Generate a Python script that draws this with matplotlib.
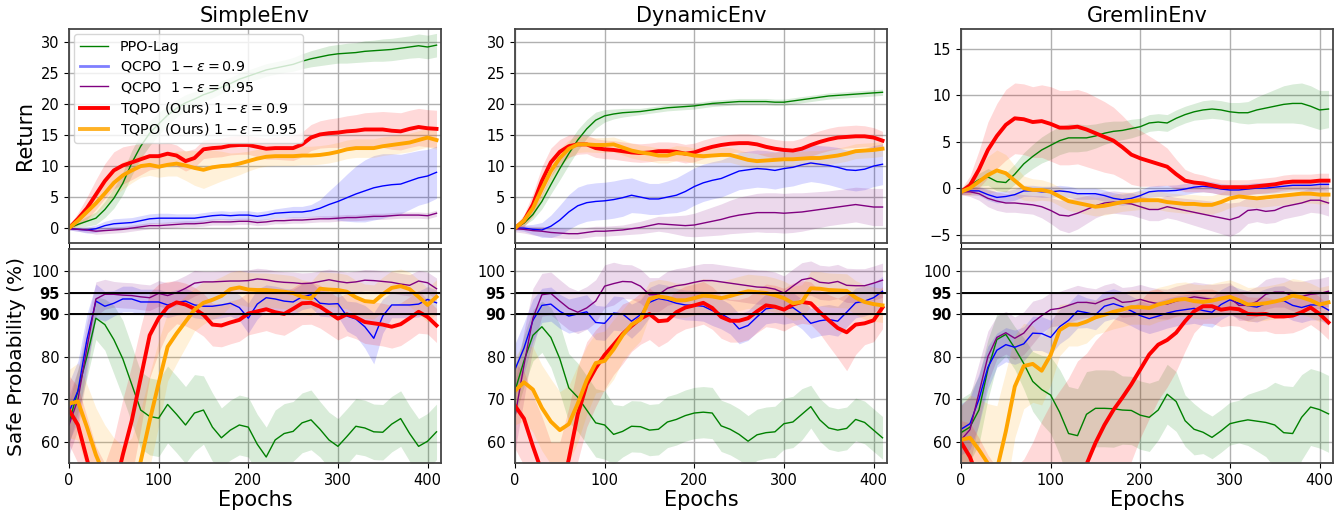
import matplotlib
matplotlib.use("Agg")
import matplotlib.pyplot as plt
from matplotlib.lines import Line2D
import numpy as np

epochs = list(range(0, 420, 10))

envs = ["SimpleEnv", "DynamicEnv", "GremlinEnv"]

# ---- Return (top row) ----
simple_ret_ppo = [0, 0.6, 1.1, 1.6, 3.0, 4.8, 7.2, 10.5, 13.2, 15.3, 16.8, 18.2, 19.3, 20.2, 20.8, 21.5, 22.0, 22.7, 23.3, 24.0, 24.5, 25.0, 25.5, 25.8, 26.1, 26.4, 26.9, 27.3, 27.6, 27.9, 28.1, 28.2, 28.3, 28.5, 28.6, 28.7, 28.8, 29.0, 29.2, 29.4, 29.2, 29.5]
simple_ret_q90 = [-0.1, -0.2, -0.3, -0.1, 0.4, 0.7, 0.8, 0.9, 1.2, 1.5, 1.6, 1.6, 1.6, 1.6, 1.6, 1.8, 2.0, 2.1, 2.0, 2.1, 2.1, 1.9, 2.1, 2.4, 2.5, 2.6, 2.6, 2.8, 3.2, 3.8, 4.3, 4.9, 5.5, 6.0, 6.5, 6.8, 7.0, 7.1, 7.6, 8.1, 8.4, 9.0]
simple_ret_q95 = [-0.1, -0.2, -0.3, -0.5, -0.4, -0.3, -0.2, 0.0, 0.2, 0.4, 0.4, 0.5, 0.6, 0.7, 0.7, 0.8, 1.0, 1.0, 1.0, 1.1, 1.1, 0.9, 1.0, 1.2, 1.2, 1.3, 1.3, 1.4, 1.5, 1.5, 1.6, 1.7, 1.7, 1.8, 1.9, 1.9, 2.0, 2.1, 2.1, 2.1, 2.0, 2.4]
simple_ret_t90 = [0, 1.5, 3.2, 5.4, 7.6, 9.3, 10.1, 10.6, 11.1, 11.6, 11.6, 12.0, 11.7, 10.8, 11.3, 12.7, 12.9, 13.0, 13.3, 13.4, 13.4, 13.1, 12.8, 12.9, 12.9, 12.9, 13.5, 14.6, 15.1, 15.3, 15.4, 15.6, 15.7, 15.9, 15.9, 15.9, 15.7, 15.6, 16.0, 16.3, 16.1, 16.0]
simple_ret_t95 = [0, 1.2, 2.6, 4.0, 5.6, 7.3, 8.5, 9.3, 10.0, 10.2, 9.9, 10.2, 10.4, 10.1, 9.7, 9.4, 9.8, 10.0, 10.1, 10.4, 10.8, 11.2, 11.5, 11.6, 11.6, 11.6, 11.7, 11.7, 11.8, 12.0, 12.3, 12.7, 12.9, 12.9, 12.9, 13.2, 13.4, 13.6, 13.8, 14.2, 14.6, 14.2]
simple_ret_ppo_sd = [0.2, 0.5, 0.8, 1.0, 1.3, 1.6, 1.8, 2.0, 2.0, 2.0, 1.8, 1.6, 1.4, 1.3, 1.2, 1.1, 1.0, 1.0, 1.0, 1.0, 1.0, 1.0, 1.0, 1.0, 1.0, 1.1, 1.2, 1.3, 1.4, 1.5, 1.5, 1.6, 1.6, 1.7, 1.7, 1.8, 1.8, 1.8, 1.8, 1.9, 1.9, 1.9]
simple_ret_q90_sd = [0.2, 0.3, 0.5, 0.6, 0.7, 0.8, 0.8, 0.8, 0.8, 0.8, 0.8, 0.8, 0.7, 0.7, 0.7, 0.7, 0.7, 0.7, 0.7, 0.7, 0.7, 0.7, 0.7, 0.7, 0.8, 0.9, 0.9, 1.0, 1.4, 2.2, 3.0, 3.8, 4.5, 5.0, 5.2, 5.2, 5.0, 4.8, 4.6, 4.4, 4.3, 4.2]
simple_ret_q95_sd = [0.2, 0.3, 0.4, 0.5, 0.5, 0.5, 0.5, 0.5, 0.5, 0.5, 0.5, 0.5, 0.5, 0.5, 0.5, 0.5, 0.5, 0.5, 0.5, 0.5, 0.5, 0.5, 0.5, 0.5, 0.5, 0.5, 0.5, 0.5, 0.5, 0.5, 0.5, 0.5, 0.5, 0.5, 0.5, 0.5, 0.5, 0.5, 0.5, 0.5, 0.5, 0.5]
simple_ret_t90_sd = [0.3, 1.0, 1.8, 2.4, 2.8, 3.0, 3.0, 2.8, 2.5, 2.2, 2.0, 1.8, 1.7, 1.6, 1.5, 1.5, 1.5, 1.5, 1.5, 1.5, 1.5, 1.6, 1.7, 1.8, 1.9, 2.0, 2.0, 2.1, 2.2, 2.3, 2.4, 2.5, 2.6, 2.7, 2.8, 2.9, 3.0, 3.0, 3.0, 3.0, 3.0, 3.0]
simple_ret_t95_sd = [0.3, 0.8, 1.4, 1.8, 2.0, 2.2, 2.2, 2.0, 1.8, 1.7, 1.7, 1.8, 2.0, 2.4, 2.8, 3.0, 2.8, 2.4, 2.0, 1.8, 1.6, 1.5, 1.5, 1.5, 1.5, 1.5, 1.5, 1.5, 1.5, 1.5, 1.5, 1.5, 1.5, 1.5, 1.5, 1.5, 1.5, 1.5, 1.5, 1.5, 1.5, 1.5]

dyn_ret_ppo = [0, 0.8, 2.2, 4.3, 7.0, 9.6, 12.0, 14.2, 16.0, 17.4, 18.1, 18.4, 18.6, 18.7, 18.8, 19.0, 19.2, 19.4, 19.5, 19.6, 19.7, 19.9, 20.1, 20.2, 20.3, 20.4, 20.4, 20.4, 20.4, 20.3, 20.3, 20.5, 20.7, 20.9, 21.1, 21.3, 21.4, 21.5, 21.6, 21.7, 21.8, 21.9]
dyn_ret_q90 = [0, 0, -0.2, -0.3, 0.3, 1.3, 2.6, 3.6, 4.1, 4.3, 4.4, 4.6, 4.9, 5.3, 5.0, 4.7, 4.7, 5.0, 5.3, 5.9, 6.7, 7.3, 7.7, 8.0, 8.6, 9.2, 9.4, 9.6, 9.5, 9.3, 9.6, 9.8, 10.2, 10.5, 10.3, 10.1, 9.8, 9.4, 9.3, 9.5, 10.0, 10.3]
dyn_ret_q95 = [-0.1, -0.2, -0.4, -0.5, -0.7, -0.8, -0.9, -0.9, -0.7, -0.5, -0.5, -0.4, -0.3, -0.1, 0.1, 0.4, 0.7, 0.6, 0.5, 0.4, 0.5, 0.8, 1.1, 1.4, 1.8, 2.1, 2.3, 2.5, 2.5, 2.5, 2.4, 2.5, 2.6, 2.8, 3.0, 3.2, 3.4, 3.6, 3.8, 3.6, 3.4, 3.4]
dyn_ret_t90 = [0, 1.2, 3.8, 7.6, 10.6, 12.3, 13.2, 13.5, 13.5, 12.9, 12.7, 12.6, 12.4, 12.2, 12.1, 12.2, 12.4, 12.4, 12.3, 12.0, 12.2, 12.7, 13.1, 13.4, 13.6, 13.7, 13.7, 13.5, 13.1, 12.8, 12.6, 12.5, 12.8, 13.4, 13.9, 14.3, 14.6, 14.7, 14.8, 14.8, 14.6, 14.1]
dyn_ret_t95 = [0, 1.2, 3.2, 6.3, 9.2, 11.3, 12.8, 13.5, 13.5, 13.4, 13.4, 13.5, 13.0, 12.5, 12.2, 12.0, 11.7, 11.7, 12.1, 12.0, 11.7, 11.6, 11.7, 11.8, 11.8, 11.4, 11.0, 10.8, 10.9, 11.0, 11.1, 11.1, 11.2, 11.3, 11.3, 11.5, 11.7, 12.0, 12.4, 12.5, 12.6, 12.8]
dyn_ret_ppo_sd = [0.2, 0.4, 0.8, 1.2, 1.5, 1.8, 1.8, 1.7, 1.5, 1.3, 1.0, 0.8, 0.7, 0.6, 0.5, 0.5, 0.5, 0.5, 0.5, 0.5, 0.5, 0.5, 0.5, 0.5, 0.5, 0.5, 0.5, 0.5, 0.5, 0.5, 0.5, 0.5, 0.5, 0.5, 0.5, 0.5, 0.5, 0.5, 0.5, 0.5, 0.5, 0.5]
dyn_ret_q90_sd = [0.3, 0.5, 0.8, 1.2, 1.8, 2.4, 2.8, 3.0, 3.0, 3.0, 3.0, 3.0, 3.0, 2.8, 2.6, 2.5, 2.5, 2.6, 2.8, 3.0, 3.0, 3.0, 3.0, 3.0, 3.0, 3.0, 3.0, 3.0, 3.0, 3.0, 3.0, 3.0, 3.0, 3.0, 3.0, 3.1, 3.2, 3.2, 3.3, 3.3, 3.3, 3.3]
dyn_ret_q95_sd = [0.5, 0.6, 0.7, 0.8, 0.8, 0.8, 0.8, 0.8, 0.8, 0.8, 0.8, 0.8, 0.8, 0.9, 1.0, 1.1, 1.2, 1.3, 1.5, 1.7, 1.9, 2.1, 2.3, 2.5, 2.7, 2.9, 3.0, 3.1, 3.2, 3.2, 3.2, 3.2, 3.1, 3.0, 2.9, 2.8, 2.8, 2.8, 2.8, 2.9, 3.0, 3.0]
dyn_ret_t90_sd = [0.3, 1.0, 1.8, 2.3, 2.3, 2.0, 1.8, 1.6, 1.5, 1.5, 1.5, 1.5, 1.5, 1.5, 1.5, 1.5, 1.5, 1.5, 1.5, 1.5, 1.5, 1.5, 1.5, 1.5, 1.5, 1.5, 1.5, 1.5, 1.5, 1.5, 1.5, 1.6, 1.7, 1.8, 1.8, 1.8, 1.8, 1.8, 1.8, 1.7, 1.6, 1.5]
dyn_ret_t95_sd = [0.3, 0.8, 1.3, 1.6, 1.6, 1.5, 1.4, 1.3, 1.2, 1.2, 1.2, 1.2, 1.2, 1.2, 1.2, 1.2, 1.2, 1.2, 1.2, 1.2, 1.2, 1.2, 1.2, 1.2, 1.2, 1.2, 1.2, 1.2, 1.2, 1.2, 1.2, 1.2, 1.2, 1.2, 1.2, 1.2, 1.2, 1.2, 1.2, 1.2, 1.2, 1.2]

grem_ret_ppo = [-0.4, 0.3, 0.9, 1.2, 0.7, 0.6, 1.5, 2.6, 3.4, 4.1, 4.6, 5.1, 5.4, 5.4, 5.4, 5.6, 5.9, 6.1, 6.2, 6.4, 6.6, 7.0, 7.1, 7.0, 7.5, 7.9, 8.2, 8.4, 8.5, 8.4, 8.2, 8.1, 8.1, 8.4, 8.6, 8.8, 9.0, 9.1, 9.1, 8.8, 8.4, 8.5]
grem_ret_q90 = [-0.4, -0.3, -0.3, -0.7, -1.0, -0.9, -0.7, -0.3, -0.3, -0.4, -0.4, -0.3, -0.4, -0.6, -0.6, -0.6, -0.8, -1.1, -1.25, -1.1, -0.8, -0.4, -0.3, -0.3, -0.25, -0.1, 0.1, 0.2, 0.1, -0.1, -0.2, -0.2, -0.1, 0.0, 0.0, 0.1, 0.2, 0.3, 0.3, 0.3, 0.4, 0.4]
grem_ret_q95 = [-0.4, -0.4, -0.6, -1.1, -1.4, -1.6, -1.6, -1.7, -1.8, -2.0, -2.4, -2.9, -3.0, -2.7, -2.3, -1.9, -1.6, -1.5, -1.6, -1.7, -2.0, -2.3, -2.3, -2.0, -2.2, -2.4, -2.6, -2.8, -3.0, -3.2, -3.4, -3.1, -2.4, -2.3, -2.5, -2.4, -2.0, -1.8, -1.6, -1.3, -1.3, -1.6]
grem_ret_t90 = [-0.4, 0.3, 2.0, 4.1, 5.6, 6.8, 7.5, 7.4, 7.1, 7.2, 6.9, 6.5, 6.5, 6.6, 6.3, 5.9, 5.5, 5.1, 4.4, 3.6, 3.2, 2.9, 2.6, 2.3, 1.5, 0.8, 0.6, 0.5, 0.3, 0.1, 0.1, 0.1, 0.1, 0.2, 0.3, 0.4, 0.6, 0.7, 0.7, 0.7, 0.8, 0.8]
grem_ret_t95 = [-0.4, 0.0, 0.7, 1.4, 1.9, 1.6, 0.8, 0.0, -0.2, -0.2, -0.4, -0.9, -1.4, -1.6, -1.8, -2.0, -1.9, -1.7, -1.5, -1.4, -1.3, -1.3, -1.3, -1.5, -1.6, -1.7, -1.7, -1.8, -1.8, -1.5, -1.1, -0.9, -1.0, -1.1, -1.0, -0.9, -0.8, -0.7, -0.6, -0.6, -0.7, -0.7]
grem_ret_ppo_sd = [0.3, 0.5, 0.7, 0.9, 1.0, 1.0, 1.1, 1.2, 1.3, 1.4, 1.5, 1.5, 1.5, 1.5, 1.4, 1.3, 1.2, 1.1, 1.0, 1.0, 0.9, 0.9, 0.9, 0.9, 0.9, 0.9, 0.9, 1.0, 1.0, 1.0, 1.0, 1.1, 1.2, 1.4, 1.6, 1.8, 2.0, 2.1, 2.2, 2.2, 2.1, 2.0]
grem_ret_q90_sd = [0.3, 0.4, 0.5, 0.6, 0.6, 0.6, 0.6, 0.6, 0.6, 0.6, 0.6, 0.6, 0.6, 0.6, 0.6, 0.6, 0.6, 0.6, 0.6, 0.6, 0.6, 0.6, 0.6, 0.6, 0.6, 0.6, 0.6, 0.6, 0.6, 0.6, 0.6, 0.6, 0.6, 0.6, 0.6, 0.6, 0.6, 0.6, 0.6, 0.6, 0.6, 0.6]
grem_ret_q95_sd = [0.3, 0.5, 0.7, 0.9, 1.0, 1.0, 1.0, 1.0, 1.0, 1.2, 1.4, 1.6, 1.8, 1.7, 1.5, 1.3, 1.2, 1.2, 1.2, 1.2, 1.2, 1.2, 1.2, 1.2, 1.2, 1.3, 1.4, 1.5, 1.6, 1.7, 1.8, 1.6, 1.4, 1.3, 1.3, 1.3, 1.3, 1.3, 1.3, 1.3, 1.4, 1.4]
grem_ret_t90_sd = [0.3, 1.0, 2.0, 3.0, 3.5, 3.8, 3.8, 3.8, 3.8, 3.9, 4.0, 4.0, 4.0, 4.0, 4.0, 3.9, 3.8, 3.6, 3.4, 3.2, 3.0, 2.7, 2.4, 2.0, 1.6, 1.2, 1.0, 0.9, 0.8, 0.8, 0.8, 0.8, 0.8, 0.8, 0.8, 0.8, 0.8, 0.8, 0.8, 0.8, 0.8, 0.8]
grem_ret_t95_sd = [0.3, 0.8, 1.4, 2.0, 2.2, 2.0, 1.6, 1.3, 1.2, 1.1, 1.0, 1.0, 1.0, 1.0, 1.0, 1.0, 1.0, 1.0, 1.0, 1.0, 1.0, 1.0, 1.0, 1.0, 1.0, 1.0, 1.0, 1.0, 1.0, 1.0, 1.0, 1.0, 1.0, 1.0, 1.0, 1.0, 1.0, 1.0, 1.0, 1.0, 1.0, 1.0]

# ---- Safe probability (bottom row) ----
simple_safe_ppo = [64.5, 72, 80, 89, 87.5, 84, 79.5, 73.5, 67.5, 66, 65.6, 68.8, 66.5, 64, 66.8, 67.5, 63.5, 61, 62.8, 64, 63.5, 59.5, 56.5, 60.5, 62, 62.5, 64.5, 65.2, 63, 60.5, 59, 61.3, 63.7, 63.3, 62.4, 62.3, 64.2, 65.5, 62, 59, 60.2, 62.4]
simple_safe_q90 = [67, 72, 84, 93, 91.8, 92.5, 93.5, 93.5, 92.8, 92.8, 92.8, 92.1, 92.7, 93, 92.1, 91.8, 91.8, 92.1, 92.5, 91.5, 89, 92.3, 93.8, 93.5, 93, 92.8, 94, 94.5, 92.5, 92.3, 92.4, 89.5, 88.8, 87, 84.3, 89.5, 92.1, 92.1, 92.1, 92.3, 93.4, 92.6]
simple_safe_q95 = [64, 70, 82, 93.5, 94.6, 94.6, 94.4, 94.3, 94, 93.8, 94.8, 94.3, 95, 96, 97.2, 97.5, 97.5, 97.6, 97.7, 97.7, 97.8, 98.2, 98, 97.6, 97.4, 97.3, 97.1, 97.2, 97.6, 98, 97.6, 97.3, 97.5, 97.9, 97.8, 97.6, 97.4, 97, 96.7, 97.7, 97.3, 95.9]
simple_safe_t90 = [67.5, 64, 56, 48, 43, 48, 57, 65, 75, 85, 89, 91.6, 92.7, 92.2, 91.2, 89.8, 87.5, 87.3, 88, 88.6, 90.1, 90.6, 91.1, 90.4, 90, 91.2, 92.5, 92.6, 91.7, 90.3, 88.9, 89.9, 89.2, 88.1, 87.8, 87.5, 87, 87.6, 89, 90.5, 89.3, 87.3]
simple_safe_t95 = [69, 69.5, 63.5, 57, 52, 48, 46, 48, 55.5, 65, 73.8, 82.3, 85.4, 88.2, 91, 92.6, 93.3, 94.2, 95.8, 96.2, 95.7, 95.6, 95.6, 95.4, 95.2, 94.9, 94, 93.6, 95.9, 95.7, 95.6, 95.2, 93.9, 93, 92.8, 94.6, 96.1, 96.5, 95.8, 94, 92.1, 94]
simple_safe_ppo_sd = [5, 5, 5, 5, 6, 8, 9, 9, 9, 9, 9, 9, 9, 9, 9, 8, 8, 7, 7, 7, 7, 7, 7, 7, 7, 7, 7, 7, 6.5, 6.5, 6.5, 6.5, 6.5, 6.5, 6.5, 6.5, 6.5, 6.5, 6.5, 6.5, 6.5, 6.5]
simple_safe_q90_sd = [7, 7, 6, 4, 3.5, 3, 3, 3, 3, 3, 3, 3, 3, 3, 3, 3, 3, 3, 3, 3, 3.5, 3.5, 3, 3, 3, 3, 3, 3, 3, 3, 3, 3.5, 4, 5, 6, 4, 3, 3, 3, 3, 3, 3]
simple_safe_q95_sd = [7, 7, 6, 4, 3.5, 3, 3, 3, 3, 3, 3, 3, 3, 3, 3, 2.5, 2.5, 2.5, 2.5, 2.5, 2.5, 2.5, 2.5, 2.5, 2.5, 2.5, 2.5, 2.5, 2.5, 2.5, 2.5, 2.5, 2.5, 2.5, 2.5, 2.5, 2.5, 2.5, 2.5, 2.5, 2.5, 2.5]
simple_safe_t90_sd = [8, 9, 10, 11, 12, 13, 13, 13, 12, 10, 8, 6, 5, 5, 5, 5, 5, 5, 5, 5, 5, 5, 5, 5, 5, 5, 5, 5, 5, 5, 5, 5, 5, 5, 5, 5, 5, 5, 5, 5, 4, 4]
simple_safe_t95_sd = [8, 9, 10, 11, 12, 13, 13, 13, 12, 11, 10, 8, 7, 6, 5, 5, 4.5, 4.5, 4, 4, 4, 4, 4, 4, 4, 4, 4, 4, 4, 4, 4, 4, 4, 4, 4, 4, 4, 4, 4, 4, 4, 4]

dyn_safe_ppo = [72, 79, 85, 87, 84.5, 79.5, 72.7, 70.5, 67.5, 64.5, 64, 61.8, 62.5, 63.7, 63.6, 62.8, 63, 64.7, 65.3, 66.2, 66.8, 67, 66.8, 63.8, 63, 61.8, 60.2, 61.7, 62.2, 62.4, 64.3, 64.7, 66.5, 68.3, 65.2, 63.3, 62.8, 63.2, 65.3, 64.6, 62.8, 61]
dyn_safe_q90 = [77, 82, 88.5, 92, 92.3, 90.6, 89.5, 90, 90.5, 88, 87.8, 90.2, 90, 88.3, 89.8, 92.7, 93.6, 93.2, 92.5, 92.1, 92, 91.8, 90.8, 90, 88.8, 86.5, 87.3, 89.3, 91.2, 91.5, 91.1, 91.5, 90, 87.8, 88.4, 88.7, 88.3, 90.4, 92.6, 93, 93.8, 95.3]
dyn_safe_q95 = [66, 78, 89, 94.5, 94.8, 93, 91.3, 90.4, 91.4, 93, 96.5, 97.1, 97.6, 97.5, 96.5, 94.5, 94.5, 96, 96.6, 96.9, 97.4, 97.8, 97.8, 97.5, 97.2, 96.9, 96.6, 96.3, 96.2, 95.8, 94.9, 96.5, 98, 98.4, 97.4, 97.2, 97.6, 96.7, 96.6, 96.6, 97.2, 97.9]
dyn_safe_t90 = [68.5, 65.5, 59, 53, 47, 47, 56, 66.5, 73.5, 77.3, 80.4, 82.8, 85.3, 87.2, 88.9, 90, 88.3, 88.5, 90.4, 91.5, 92, 92.6, 91.4, 89.3, 88.4, 88.4, 89, 90.6, 92, 91.7, 91, 92.2, 92.8, 92.5, 90.4, 88.5, 86.7, 85.7, 87.5, 87.8, 88.5, 91.5]
dyn_safe_t95 = [72, 74, 72.3, 68, 64.8, 62.8, 64.2, 69, 74.5, 78.5, 79, 81.7, 85, 87.5, 88.7, 93.5, 94.1, 93.8, 93.2, 93.2, 93.7, 94.3, 94.1, 93.7, 94.2, 94.8, 95.3, 95.1, 94.9, 94.4, 93.7, 92.5, 92.8, 96, 95.9, 95.6, 95.5, 95.4, 93.8, 92.8, 92.3, 92]
dyn_safe_ppo_sd = [6, 6, 6, 6, 7, 8, 8, 8, 8, 8, 8, 7, 6, 6, 6, 6, 6, 6, 6, 6, 6, 6, 6, 6, 6, 6, 6, 6, 6, 6, 6, 6, 6, 5, 5, 5, 5, 5, 5, 5, 5, 5]
dyn_safe_q90_sd = [6, 6, 5, 4, 4, 4, 4, 4, 4, 4, 4, 4, 4, 4, 3.5, 3.5, 3.5, 3.5, 3.5, 3.5, 3.5, 3.5, 3.5, 3.5, 3.5, 3.5, 3.5, 3.5, 3.5, 3.5, 3.5, 3.5, 3.5, 3.5, 3.5, 3.5, 3.5, 3.5, 3.5, 3.5, 3.5, 3.5]
dyn_safe_q95_sd = [8, 8, 7, 5, 5, 5, 5, 5, 5, 5, 5, 5, 4, 4, 4, 4, 4, 4, 4, 4, 4, 4, 4, 4, 4, 4, 4, 4, 4, 4, 4, 4, 4, 4, 4, 4, 4, 4, 4, 4, 4, 4]
dyn_safe_t90_sd = [10, 11, 12, 13, 13, 13, 12, 11, 10, 9, 8, 7, 7, 6, 6, 6, 6, 5, 5, 5, 5, 5, 5, 5, 5, 5, 5, 5, 5, 5, 5, 5, 5, 5, 5, 6, 7, 9, 7, 5, 5, 5]
dyn_safe_t95_sd = [8, 9, 10, 10, 10, 9, 9, 9, 8, 7, 7, 7, 6, 6, 5, 4, 4, 4, 4, 4, 4, 4, 4, 4, 4, 4, 4, 4, 4, 4, 4, 4, 4, 4, 4, 4, 4, 4, 4, 4, 4, 4]

grem_safe_ppo = [62.2, 63.5, 67.5, 77, 84, 85.2, 82, 78.4, 74.2, 72.3, 71, 67, 62, 61.5, 66.5, 67.9, 67.9, 67.8, 67.5, 67.4, 66.3, 65.8, 67.5, 71.2, 69.5, 65, 63, 62.3, 61.1, 62.6, 64.3, 64.8, 65.2, 64.9, 64.6, 64, 62.2, 62, 65.8, 68.2, 67.6, 66.6]
grem_safe_q90 = [63, 64.3, 70, 77.5, 81.5, 82.8, 82.2, 83, 85.5, 85.4, 84.5, 87, 88.5, 90.7, 90.3, 89.8, 91.8, 92.4, 91.7, 90.7, 89.6, 88.9, 89.5, 90.2, 90.7, 91, 91.3, 90.8, 90.4, 92.2, 93.3, 92.5, 91.9, 91.6, 92.4, 93, 93.1, 92, 91.5, 92.1, 92.1, 90.9]
grem_safe_q95 = [60.5, 62.9, 71.5, 80, 84.5, 85.6, 84.3, 85.5, 88, 89.6, 91, 91.3, 92, 92.7, 92.7, 92.4, 93.3, 93.8, 92.7, 92.9, 93.4, 92.8, 92.4, 92.3, 93, 93.5, 94, 93.7, 93.4, 93.6, 93.8, 92, 92, 92.9, 94.6, 95.1, 95.1, 94.2, 94.1, 94.6, 94.8, 95.3]
grem_safe_t90 = [60, 56.5, 51, 46, 42, 40, 38, 37, 37, 38, 40, 43, 47, 51, 54.8, 59.8, 64, 67.5, 70.4, 73.5, 77, 80.5, 82.8, 83.9, 85.6, 88.3, 90.6, 91.8, 91.8, 91, 91.3, 91.1, 90, 89.9, 90, 89.4, 89.4, 89.6, 90.4, 91.5, 90, 88]
grem_safe_t95 = [60.5, 61, 58.2, 55, 53.5, 62.5, 73, 77.8, 78.3, 76.7, 80.4, 86.2, 87.5, 87.5, 88.2, 89.2, 89.8, 90.5, 91, 91.6, 91.6, 91.4, 92.2, 92.7, 93.3, 93.5, 93, 92.8, 93.1, 93.6, 94, 93.2, 92.2, 92.3, 92.5, 92.9, 93.4, 94.3, 93.9, 93.2, 92.2, 92.7]
grem_safe_ppo_sd = [8, 8, 8, 7, 6, 5, 5, 6, 7, 8, 9, 10, 11, 11, 10, 9, 9, 9, 8, 8, 8, 8, 7, 7, 7, 6, 6, 5, 5, 5, 5, 5, 6, 7, 8, 10, 11, 11, 10, 9, 9, 9]
grem_safe_q90_sd = [6, 6, 6, 5, 4, 4, 4, 4, 4, 4, 4, 4, 4, 4, 3.5, 3.5, 3.5, 3.5, 3.5, 3.5, 3.5, 3.5, 3.5, 3.5, 3.5, 3.5, 3.5, 3.5, 3.5, 3.5, 3.5, 3.5, 3.5, 3.5, 3.5, 3.5, 3.5, 3.5, 3.5, 3.5, 3.5, 3.5]
grem_safe_q95_sd = [8, 8, 7, 6, 5, 5, 5, 5, 5, 4, 4, 4, 4, 4, 3.5, 3.5, 3.5, 3.5, 3.5, 3.5, 3.5, 3.5, 3.5, 3.5, 3.5, 3.5, 3.5, 3.5, 3.5, 3.5, 3.5, 3.5, 3.5, 3.5, 3.5, 3.5, 3.5, 3.5, 3.5, 3.5, 3.5, 3.5]
grem_safe_t90_sd = [5, 8, 10, 11, 12, 14, 16, 19, 23, 27, 29, 29, 28, 28, 26, 24, 22, 21, 20, 18, 16, 15, 13, 11, 9, 7, 5, 4, 4, 4, 4, 4, 4, 4, 4, 4, 4, 4, 4, 4, 4, 4]
grem_safe_t95_sd = [8, 10, 12, 14, 15, 14, 12, 10, 9, 8, 7, 6, 5, 5, 5, 4, 4, 4, 4, 4, 4, 4, 4, 4, 4, 4, 4, 4, 4, 4, 4, 4, 4, 4, 4, 4, 4, 4, 4, 4, 4, 4]

colors = ["green", "blue", "purple", "red", "orange"]
widths = [1.0, 1.0, 1.0, 2.8, 2.8]
labels = ["PPO-Lag", r"QCPO  $1-\varepsilon=0.9$", r"QCPO  $1-\varepsilon=0.95$",
          r"TQPO (Ours) $1-\varepsilon=0.9$", r"TQPO (Ours) $1-\varepsilon=0.95$"]

ret_data = [
    [(simple_ret_ppo, simple_ret_ppo_sd), (simple_ret_q90, simple_ret_q90_sd), (simple_ret_q95, simple_ret_q95_sd),
     (simple_ret_t90, simple_ret_t90_sd), (simple_ret_t95, simple_ret_t95_sd)],
    [(dyn_ret_ppo, dyn_ret_ppo_sd), (dyn_ret_q90, dyn_ret_q90_sd), (dyn_ret_q95, dyn_ret_q95_sd),
     (dyn_ret_t90, dyn_ret_t90_sd), (dyn_ret_t95, dyn_ret_t95_sd)],
    [(grem_ret_ppo, grem_ret_ppo_sd), (grem_ret_q90, grem_ret_q90_sd), (grem_ret_q95, grem_ret_q95_sd),
     (grem_ret_t90, grem_ret_t90_sd), (grem_ret_t95, grem_ret_t95_sd)],
]
safe_data = [
    [(simple_safe_ppo, simple_safe_ppo_sd), (simple_safe_q90, simple_safe_q90_sd), (simple_safe_q95, simple_safe_q95_sd),
     (simple_safe_t90, simple_safe_t90_sd), (simple_safe_t95, simple_safe_t95_sd)],
    [(dyn_safe_ppo, dyn_safe_ppo_sd), (dyn_safe_q90, dyn_safe_q90_sd), (dyn_safe_q95, dyn_safe_q95_sd),
     (dyn_safe_t90, dyn_safe_t90_sd), (dyn_safe_t95, dyn_safe_t95_sd)],
    [(grem_safe_ppo, grem_safe_ppo_sd), (grem_safe_q90, grem_safe_q90_sd), (grem_safe_q95, grem_safe_q95_sd),
     (grem_safe_t90, grem_safe_t90_sd), (grem_safe_t95, grem_safe_t95_sd)],
]

ret_ylims = [(-2.4, 32.1), (-2.4, 32.1), (-5.9, 17.1)]
ret_ticks = [[0, 5, 10, 15, 20, 25, 30], [0, 5, 10, 15, 20, 25, 30], [-5, 0, 5, 10, 15]]
safe_ticks = [60, 70, 80, 90, 95, 100]


def draw(ax, series):
    x = np.array(epochs)
    for (m, sd), c in zip(series, colors):
        m, sd = np.array(m), np.array(sd)
        ax.fill_between(x, m - sd, m + sd, color=c, alpha=0.15, lw=0)
    for (m, sd), c, w in zip(series, colors, widths):
        ax.plot(x, m, color=c, lw=w)


def style(ax):
    ax.grid(True, color="#b0b0b0", lw=1.0)
    ax.set_axisbelow(True)
    ax.set_xlim(0, 415)
    ax.set_xticks([0, 100, 200, 300, 400])
    ax.tick_params(labelsize=10.5)
    for s in ax.spines.values():
        s.set_linewidth(1.3)
        s.set_color("#444444")


fig = plt.figure(figsize=(13.4, 5.14), dpi=100)
lefts = [69, 515, 961]
w = 372 / 1340
h = 214 / 514

for i, env in enumerate(envs):
    x0 = lefts[i] / 1340
    ax = fig.add_axes([x0, 1 - 243 / 514, w, h])
    draw(ax, ret_data[i])
    style(ax)
    ax.set_ylim(*ret_ylims[i])
    ax.set_yticks(ret_ticks[i])
    ax.tick_params(labelbottom=False)
    ax.set_title(env, fontsize=15, pad=5)
    if i == 0:
        ax.set_ylabel("Return", fontsize=15)
        handles = [Line2D([], [], color="green", lw=1.0),
                   Line2D([], [], color="#7f7fff", lw=2.0),
                   Line2D([], [], color="purple", lw=1.0),
                   Line2D([], [], color="red", lw=2.8),
                   Line2D([], [], color="orange", lw=2.8, alpha=0.85)]
        ax.legend(handles, labels, loc="upper left", fontsize=10.3, borderaxespad=0.35,
                  handlelength=2.0, labelspacing=0.38)

    ax2 = fig.add_axes([x0, 1 - 463 / 514, w, h])
    draw(ax2, safe_data[i])
    style(ax2)
    ax2.axhline(90, color="black", lw=1.4)
    ax2.axhline(95, color="black", lw=1.4)
    ax2.set_ylim(55.1, 105.2)
    ax2.set_yticks(safe_ticks)
    ax2.set_yticklabels([str(t) for t in safe_ticks])
    for lab in ax2.get_yticklabels():
        if lab.get_text() in ("90", "95"):
            lab.set_fontweight("bold")
    ax2.set_xlabel("Epochs", fontsize=15, labelpad=2)
    if i == 0:
        ax2.set_ylabel("Safe Probability (%)", fontsize=14.5)

fig.savefig("out.png", dpi=100)
